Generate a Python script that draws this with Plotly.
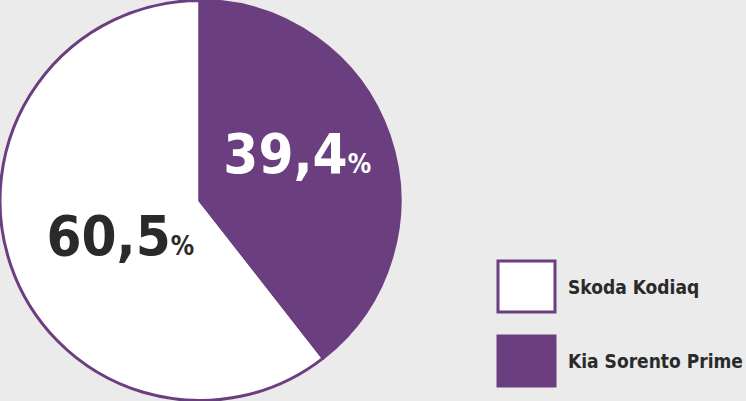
import plotly.graph_objects as go

labels = ["Skoda Kodiaq", "Kia Sorento Prime"]
values = [60.5, 39.4]
slice_colors = ["#ffffff", "#6b3f7f"]
text_colors = ["#2a2a2a", "#ffffff"]

PURPLE = "#6b3f7f"
BG = "#ebebeb"
FONT = "DejaVu Sans Condensed"

total = sum(values)
rotation = 360 * values[1] / total

NB = "\u00a0"
num = "<span style='font-size:56px'><b>%{value:.1f}</b></span><b>%</b>"
templates = [NB + "<br>" + NB * 4 + num, num + "<br>" + NB]

fig = go.Figure()
fig.add_trace(go.Pie(
    labels=labels,
    values=values,
    sort=False,
    direction="clockwise",
    rotation=rotation,
    marker=dict(colors=slice_colors, line=dict(color=PURPLE, width=3)),
    texttemplate=templates,
    textposition="inside",
    insidetextorientation="horizontal",
    insidetextfont=dict(family=FONT, size=26, color=text_colors),
    domain=dict(x=[0, 400 / 746], y=[0, 1]),
    showlegend=False,
    hoverinfo="label+value",
))

# custom legend
box_y = [(261, 312), (336, 386)]
for i, lab in enumerate(labels):
    y0, y1 = box_y[i]
    fig.add_shape(type="rect", xref="paper", yref="paper",
                  x0=498 / 746, x1=555 / 746,
                  y0=1 - y1 / 401, y1=1 - y0 / 401,
                  fillcolor=slice_colors[i], line=dict(color=PURPLE, width=3))
    fig.add_annotation(xref="paper", yref="paper", x=566 / 746,
                       y=1 - ((y0 + y1) / 2) / 401, xanchor="left", yanchor="middle",
                       text="<b>" + lab + "</b>", showarrow=False,
                       font=dict(family=FONT, size=19, color="#2a2a2a"))

fig.update_layout(
    width=746, height=401,
    margin=dict(l=0, r=0, t=0, b=0),
    paper_bgcolor=BG, plot_bgcolor=BG,
    separators=", ",
)
fig.write_html("out.html", config={"displayModeBar": False},
               post_script="document.body.style.margin='0';document.body.style.background='#ebebeb';")
